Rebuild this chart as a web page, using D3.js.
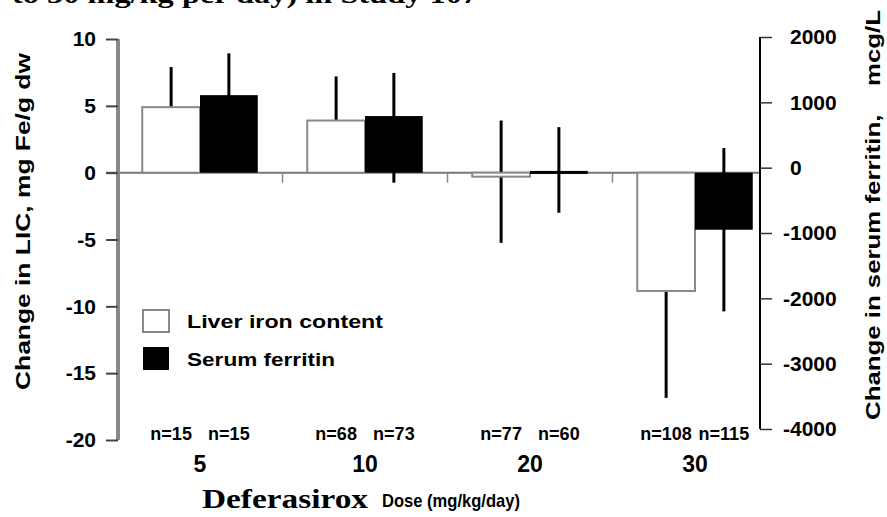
<!DOCTYPE html>
<html>
<head>
<meta charset="utf-8">
<script src="https://cdn.jsdelivr.net/npm/d3@7"></script>
<style>
  html, body { margin: 0; padding: 0; background: #fff; }
  svg { display: block; }
  text { font-family: "Liberation Sans", Arial, sans-serif; font-weight: bold; fill: #000; }
</style>
</head>
<body>
<svg id="chart" width="887" height="517"></svg>
<script>
// ---- data ----
const doses = ["5", "10", "20", "30"];
const licMean = [4.9, 3.9, -0.3, -8.85];
const licHigh = [7.9, 7.2, 3.9, -0.8];
const licLow = [2.0, 0.6, -5.25, -16.85];
const ferMean = [1110, 790, -50, -950];
const ferHigh = [1750, 1450, 620, 300];
const ferLow = [470, -230, -690, -2200];
const licN = [15, 68, 77, 108];
const ferN = [15, 73, 60, 115];
const licTicks = [10, 5, 0, -5, -10, -15, -20];
const ferTicks = [2000, 1000, 0, -1000, -2000, -3000, -4000];
const seriesNames = ["Liver iron content", "Serum ferritin"];

const svg = d3.select("#chart");

// ---- scales ----
const yL = d3.scaleLinear().domain([-20, 10]).range([440, 39]);
const yR = d3.scaleLinear().domain([-4000, 2000]).range([429, 37]);
const xG = d3.scaleBand().domain(doses).range([117.5, 777.5]).paddingInner(0.3).paddingOuter(0.15);
const xS = d3.scaleBand().domain(["lic", "fer"]).range([0, xG.bandwidth()]);

const leftX = 118, rightX = 760;
const base = yL(0); // shared drawn baseline

// ---- title (cut off at the top, as in the source) ----
svg.append("text")
  .attr("x", 12).attr("y", 3)
  .attr("textLength", 466).attr("lengthAdjust", "spacingAndGlyphs")
  .style("font-family", "'Liberation Serif', 'Times New Roman', serif")
  .style("font-size", "26px")
  .text("to 30 mg/kg per day) in Study 107");

// ---- baseline ----
svg.append("line")
  .attr("x1", leftX - 12).attr("x2", rightX)
  .attr("y1", base).attr("y2", base)
  .attr("stroke", "#777").attr("stroke-width", 2);

// small ticks between groups
const between = doses.slice(1).map(d => xG(d) - xG.step() * xG.paddingInner() / 2);
svg.selectAll(".gtick").data(between).enter().append("line")
  .attr("x1", d => d).attr("x2", d => d)
  .attr("y1", base).attr("y2", base + 10)
  .attr("stroke", "#888").attr("stroke-width", 1.5);

// ---- error bars ----
const g = svg.append("g");
doses.forEach((d, i) => {
  const cxL = xG(d) + xS("lic") + xS.bandwidth() / 2;
  const cxF = xG(d) + xS("fer") + xS.bandwidth() / 2;
  g.append("line").attr("x1", cxL).attr("x2", cxL)
    .attr("y1", yL(licLow[i])).attr("y2", yL(licHigh[i]))
    .attr("stroke", "#000").attr("stroke-width", 3);
  g.append("line").attr("x1", cxF).attr("x2", cxF)
    .attr("y1", yR(ferLow[i])).attr("y2", yR(ferHigh[i]))
    .attr("stroke", "#000").attr("stroke-width", 3);
});

// ---- bars ----
svg.selectAll(".licbar").data(doses).enter().append("rect")
  .attr("x", d => xG(d) + xS("lic"))
  .attr("width", xS.bandwidth())
  .attr("y", (d, i) => Math.min(base, yL(licMean[i])))
  .attr("height", (d, i) => Math.abs(yL(licMean[i]) - base))
  .attr("fill", "#fff").attr("stroke", "#888").attr("stroke-width", 2);

svg.selectAll(".ferbar").data(doses).enter().append("rect")
  .attr("x", d => xG(d) + xS("fer"))
  .attr("width", xS.bandwidth())
  .attr("y", (d, i) => Math.min(base, yR(ferMean[i])))
  .attr("height", (d, i) => Math.max(3, Math.abs(yR(ferMean[i]) - base)))
  .attr("fill", "#000");

// ---- left axis ----
const axL = svg.append("g").attr("transform", `translate(${leftX},0)`)
  .call(d3.axisLeft(yL).tickValues(licTicks).tickFormat(d => String(d)).tickSize(12).tickPadding(10));
axL.select(".domain").attr("stroke", "#888").attr("stroke-width", 4)
  .attr("d", `M0,${yL(10)}V${yL(-20)}`);
axL.selectAll(".tick line").attr("stroke", "#444").attr("stroke-width", 2);
axL.selectAll(".tick text").style("font-size", "21px")
  .style("font-family", "'Liberation Sans', Arial, sans-serif").style("font-weight", "bold");

// ---- right axis ----
const axR = svg.append("g").attr("transform", `translate(${rightX},0)`)
  .call(d3.axisRight(yR).tickValues(ferTicks).tickFormat(d => String(d)).tickSize(12).tickPadding(18));
axR.select(".domain").attr("stroke", "#000").attr("stroke-width", 2)
  .attr("d", `M0,${yR(2000)}V${yR(-4000)}`);
axR.selectAll(".tick line").attr("stroke", "#333").attr("stroke-width", 1.5);
axR.selectAll(".tick text").style("font-size", "21px")
  .style("font-family", "'Liberation Sans', Arial, sans-serif").style("font-weight", "bold")
  .attr("dx", d => d < 0 ? -7 : 0);

// ---- axis titles ----
svg.append("text")
  .attr("transform", `translate(30,${(53 + 390) / 2}) rotate(-90)`)
  .attr("text-anchor", "middle")
  .attr("textLength", 337).attr("lengthAdjust", "spacingAndGlyphs")
  .style("font-size", "20px")
  .text("Change in LIC, mg Fe/g dw");

svg.append("text")
  .attr("transform", `translate(880,${(10 + 420) / 2}) rotate(-90)`)
  .attr("text-anchor", "middle")
  .attr("textLength", 410).attr("lengthAdjust", "spacingAndGlyphs")
  .style("font-size", "20px").style("white-space", "pre")
  .text("Change in serum ferritin,    mcg/L");

// ---- n labels ----
doses.forEach((d, i) => {
  svg.append("text")
    .attr("x", xG(d) + xS("lic") + xS.bandwidth() / 2).attr("y", 440)
    .attr("text-anchor", "middle").style("font-size", "18px")
    .text("n=" + licN[i]);
  svg.append("text")
    .attr("x", xG(d) + xS("fer") + xS.bandwidth() / 2).attr("y", 440)
    .attr("text-anchor", "middle").style("font-size", "18px")
    .text("n=" + ferN[i]);
});

// ---- dose labels ----
svg.selectAll(".dose").data(doses).enter().append("text")
  .attr("x", d => xG(d) + xG.bandwidth() / 2).attr("y", 472)
  .attr("text-anchor", "middle").style("font-size", "23px")
  .text(d => d);

// ---- x axis title ----
svg.append("text")
  .attr("x", 202).attr("y", 508)
  .attr("textLength", 166).attr("lengthAdjust", "spacingAndGlyphs")
  .style("font-family", "'Liberation Serif', 'Times New Roman', serif")
  .style("font-size", "27px")
  .text("Deferasirox");
svg.append("text")
  .attr("x", 382).attr("y", 507)
  .attr("textLength", 138).attr("lengthAdjust", "spacingAndGlyphs")
  .style("font-size", "19px")
  .text("Dose (mg/kg/day)");

// ---- legend ----
const leg = svg.append("g");
leg.append("rect").attr("x", 143).attr("y", 310).attr("width", 26).attr("height", 22)
  .attr("fill", "#fff").attr("stroke", "#888").attr("stroke-width", 2);
leg.append("rect").attr("x", 143).attr("y", 347).attr("width", 26).attr("height", 23)
  .attr("fill", "#000");
leg.append("text").attr("x", 187).attr("y", 328)
  .attr("textLength", 196).attr("lengthAdjust", "spacingAndGlyphs")
  .style("font-size", "19px").text(seriesNames[0]);
leg.append("text").attr("x", 187).attr("y", 366)
  .attr("textLength", 148).attr("lengthAdjust", "spacingAndGlyphs")
  .style("font-size", "19px").text(seriesNames[1]);
</script>
</body>
</html>
